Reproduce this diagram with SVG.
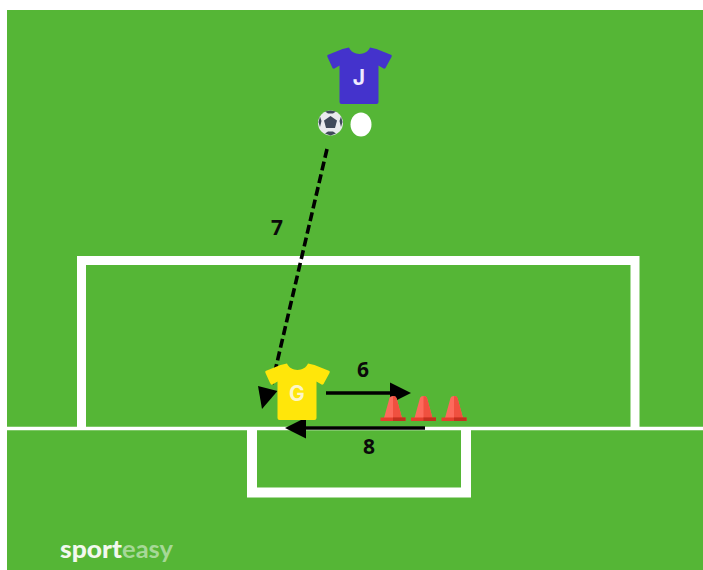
<svg xmlns="http://www.w3.org/2000/svg" width="703" height="570" viewBox="0 0 703 570">
<style>
.lbl{font-family:"Open Sans","Liberation Sans",Arial,sans-serif;font-weight:700;font-size:21px;fill:#0a0a0a;text-anchor:middle}
.shirt-t{font-family:"Inter","Liberation Sans",sans-serif;font-weight:700;font-size:21px;text-anchor:middle}
.line{fill:none;stroke:#fff}
.conn{fill:none;stroke:#000;stroke-width:3.6}
</style>
<defs>
<path id="shirt" d="M-10.500,-27.500 C-7,-19 7,-19 10.500,-27.500 L17,-26 L32,-20 Q32.500,-19 32,-18 L26,-7 Q25,-6 24,-6.500 L19,-9.500 L19,27 Q19,29 17,29 L-18,29 Q-20,29 -20,27 L-20,-9.500 L-25,-6.500 Q-26,-6 -27,-7 L-32,-18 Q-32.500,-19 -32,-20 L-17,-26 Z"/>
<g id="cone">
<path d="M-9,-2 L-3.500,-22 Q-3,-24 0,-24 Q3,-24 3.500,-22 L9,-2 Z" fill="#fd6a5c"/>
<path d="M0,-24 Q3,-24 3.500,-22 L9,-2 L0,-2 Z" fill="#f0503f"/>
<rect x="-12.500" y="-2.500" width="25" height="3.500" fill="#e53f2e"/>
<rect x="0" y="-2.500" width="12.500" height="3.500" fill="#c4301f"/>
</g>
</defs>
<rect x="0" y="0" width="703" height="570" fill="#fff"/>
<rect id="field" x="7" y="10" width="696" height="560" fill="#55b636"/>
<g id="pitch-lines">
<path class="line" stroke-width="9" d="M81.500,428 V260.500 H635 V428"/>
<path class="line" stroke-width="3.500" d="M7,428.500 H703"/>
<path class="line" stroke-width="10" d="M252,429 V492.500 H466 V429"/>
</g>
<g id="logo">
<text x="60" y="558" font-family="'Lato','Liberation Sans',sans-serif" font-size="25" font-weight="900" fill="#f2f8ee" textLength="62" lengthAdjust="spacingAndGlyphs">sport</text>
<text x="122" y="558" font-family="'Lato','Liberation Sans',sans-serif" font-size="25" font-weight="700" fill="#a6d897" textLength="51" lengthAdjust="spacingAndGlyphs">easy</text>
</g>
<g id="connectors">
<path class="conn" stroke-dasharray="9 4" d="M327,149 L272,384"/>
<path d="M262,409 L258,386 L277.500,391 Z" fill="#000"/>
<path class="conn" d="M326,393 H392"/>
<path d="M411,393 L390,382.500 V403.500 Z" fill="#000"/>
<path class="conn" d="M425,428 H304"/>
<path d="M285,428 L306,417.500 V438.500 Z" fill="#000"/>
</g>
<g id="player-j">
<use href="#shirt" x="359.500" y="75" fill="#4433cc"/>
<text class="shirt-t" x="359" y="85" fill="#efeaff">J</text>
</g>
<g id="ball">
<circle cx="330.500" cy="123" r="12.500" fill="#e9ebee"/>
<path d="M330.500,116 L337,120.500 L335,128 L326,128 L324,120.500 Z" fill="#3f4a5a"/>
<path d="M325,111.500 L330.500,110.500 L336,111.500 L333,113.500 L328,113.500 Z M318.500,122 L320,116.500 L321.500,121 L320,127 Z M342.500,122 L341,116.500 L339.500,121 L341,127 Z M325,133.500 L328,131.500 L333,131.500 L336,133.500 L330.500,135.500 Z" fill="#3f4a5a"/>
</g>
<g id="marker">
<ellipse cx="361" cy="124.500" rx="10.500" ry="12" fill="#fff"/>
</g>
<g id="player-g">
<use href="#shirt" x="297.500" y="391" fill="#ffe60a"/>
<text class="shirt-t" x="297" y="401" fill="#fdf6c8">G</text>
</g>
<g id="cones">
<use href="#cone" x="393" y="420"/>
<use href="#cone" x="423.500" y="420"/>
<use href="#cone" x="454" y="420"/>
</g>
<g id="labels">
<text class="lbl" x="277" y="235">7</text>
<text class="lbl" x="363" y="377">6</text>
<text class="lbl" x="369" y="454">8</text>
</g>
</svg>
